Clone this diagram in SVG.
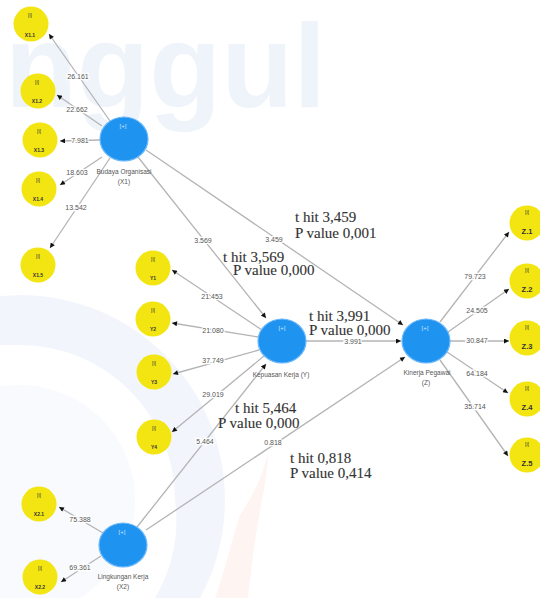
<svg xmlns="http://www.w3.org/2000/svg" width="540" height="598" viewBox="0 0 540 598">
<defs>
<marker id="ah" viewBox="0 0 10 10" refX="10" refY="5" markerWidth="6" markerHeight="5" markerUnits="userSpaceOnUse" orient="auto">
<path d="M0,0 L10,5 L0,10 z" fill="#111"/>
</marker>
<style>
.bg{fill:#ffffff}
.wm{font-family:"Liberation Sans",Arial,sans-serif;font-weight:bold;font-size:118px;fill:#eff4fb}
.ln{stroke:#b4b4b4;stroke-width:1.3;fill:none;marker-end:url(#ah)}
.el{font-family:"Liberation Sans",Arial,sans-serif;font-size:7px;fill:#555;text-anchor:middle;paint-order:stroke;stroke:#fff;stroke-width:2.5px}
.lat{fill:#1e93f0;stroke:#6bb8fb;stroke-width:1.2}
.plus{font-family:"Liberation Sans",Arial,sans-serif;font-size:6px;fill:#cfe6ff;text-anchor:middle}
.ll{font-family:"Liberation Sans",Arial,sans-serif;font-size:6.5px;fill:#555;text-anchor:middle}
.ind{fill:#f3e512}
.ii{font-family:"Liberation Sans",Arial,sans-serif;font-size:5px;fill:#333;text-anchor:middle}
.il{font-family:"Liberation Sans",Arial,sans-serif;font-size:5px;font-weight:bold;fill:#333;text-anchor:middle}
.zl{font-family:"Liberation Sans",Arial,sans-serif;font-size:7.5px;font-weight:bold;fill:#333;text-anchor:middle}
.an{font-family:"Liberation Serif","Times New Roman",serif;font-size:15px;fill:#333;stroke:#333;stroke-width:0.12}
</style>
</defs>
<rect class="bg" x="0" y="0" width="540" height="598"/>
<g id="background">
<path d="M20,295 A205,205 0 0 1 225,500 A205,205 0 0 1 200,598 L155,598 A155,155 0 0 0 175,500 A155,155 0 0 0 20,345 L0,345 L0,296 Z" fill="#f2f6fc"/>
<circle cx="20" cy="500" r="115" fill="#f8fafd"/>
<path d="M268,452 C262,480 250,500 240,515 C232,540 225,570 215,598 L248,598 C252,560 258,520 262,500 C266,480 268,465 268,452 Z" fill="#fef5f3"/>
<text class="wm" x="5" y="107">nggul</text>
</g>
<g id="connectors">
<line class="ln" x1="110" y1="121" x2="49" y2="34"/>
<line class="ln" x1="102" y1="126" x2="57" y2="95"/>
<line class="ln" x1="100" y1="140" x2="60" y2="141"/>
<line class="ln" x1="102" y1="157" x2="60" y2="185"/>
<line class="ln" x1="110" y1="158" x2="50" y2="248"/>
<line class="ln" x1="138" y1="157" x2="266" y2="318"/>
<line class="ln" x1="146" y1="150" x2="403" y2="325"/>
<line class="ln" x1="306" y1="341" x2="401" y2="341"/>
<line class="ln" x1="137" y1="527" x2="266" y2="364"/>
<line class="ln" x1="146" y1="530" x2="405" y2="357"/>
<line class="ln" x1="262" y1="330" x2="172" y2="270"/>
<line class="ln" x1="258" y1="337" x2="172" y2="323"/>
<line class="ln" x1="259" y1="350" x2="173" y2="374"/>
<line class="ln" x1="264" y1="356" x2="172" y2="432"/>
<line class="ln" x1="440" y1="322" x2="509" y2="232"/>
<line class="ln" x1="448" y1="332" x2="509" y2="289"/>
<line class="ln" x1="450" y1="341" x2="509" y2="341"/>
<line class="ln" x1="447" y1="352" x2="508" y2="393"/>
<line class="ln" x1="440" y1="360" x2="508" y2="456"/>
<line class="ln" x1="103" y1="533" x2="59" y2="507"/>
<line class="ln" x1="101" y1="556" x2="61" y2="582"/>
<text class="el" x="78" y="79">26.161</text>
<text class="el" x="77" y="112">22.662</text>
<text class="el" x="80" y="143">7.981</text>
<text class="el" x="77" y="175">18.603</text>
<text class="el" x="76" y="210">13.542</text>
<text class="el" x="203" y="243">3.569</text>
<text class="el" x="274" y="242">3.459</text>
<text class="el" x="353" y="344">3.991</text>
<text class="el" x="205" y="444">5.464</text>
<text class="el" x="273" y="445">0.818</text>
<text class="el" x="212" y="299">21.453</text>
<text class="el" x="213" y="333">21.080</text>
<text class="el" x="213" y="363">37.749</text>
<text class="el" x="213" y="397">29.019</text>
<text class="el" x="475" y="279">79.723</text>
<text class="el" x="477" y="313">24.505</text>
<text class="el" x="477" y="343">30.847</text>
<text class="el" x="477" y="376">64.184</text>
<text class="el" x="475" y="409">35.714</text>
<text class="el" x="80" y="522">75.388</text>
<text class="el" x="80" y="570">69.361</text>
</g>
<g id="X1">
<ellipse class="lat" cx="124" cy="139" rx="24" ry="22"/>
<text class="plus" x="123" y="128">[+]</text>
<text class="ll" x="124" y="174">Budaya Organisasi</text>
<text class="ll" x="124" y="184">(X1)</text>
</g>
<g id="Y">
<ellipse class="lat" cx="282" cy="341" rx="24" ry="22"/>
<text class="plus" x="282" y="330">[+]</text>
<text class="ll" x="281" y="377">Kepuasan Kerja (Y)</text>
</g>
<g id="Z">
<ellipse class="lat" cx="426" cy="341" rx="24" ry="22"/>
<text class="plus" x="425" y="330">[+]</text>
<text class="ll" x="427" y="375">Kinerja Pegawai</text>
<text class="ll" x="426" y="385">(Z)</text>
</g>
<g id="X2">
<ellipse class="lat" cx="123" cy="545" rx="24" ry="22"/>
<text class="plus" x="122" y="534">[+]</text>
<text class="ll" x="123" y="579">Lingkungan Kerja</text>
<text class="ll" x="123" y="589">(X2)</text>
</g>
<g id="X1.1"><circle class="ind" cx="31" cy="24" r="17.5"/><text class="ii" x="30" y="17">[i]</text><text class="il" x="30" y="37">X1.1</text></g>
<g id="X1.2"><circle class="ind" cx="38" cy="91" r="17.5"/><text class="ii" x="37" y="84">[i]</text><text class="il" x="37" y="103">X1.2</text></g>
<g id="X1.3"><circle class="ind" cx="40" cy="140" r="17.5"/><text class="ii" x="39" y="133">[i]</text><text class="il" x="39" y="152">X1.3</text></g>
<g id="X1.4"><circle class="ind" cx="39" cy="189" r="17.5"/><text class="ii" x="38" y="182">[i]</text><text class="il" x="38" y="201">X1.4</text></g>
<g id="X1.5"><circle class="ind" cx="38" cy="265" r="17.5"/><text class="ii" x="38" y="258">[i]</text><text class="il" x="38" y="277">X1.5</text></g>
<g id="Y1"><circle class="ind" cx="153" cy="268" r="17.5"/><text class="ii" x="153" y="261">[i]</text><text class="il" x="153" y="280">Y1</text></g>
<g id="Y2"><circle class="ind" cx="153" cy="319" r="17.5"/><text class="ii" x="153" y="312">[i]</text><text class="il" x="153" y="331">Y2</text></g>
<g id="Y3"><circle class="ind" cx="154" cy="372" r="17.5"/><text class="ii" x="154" y="365">[i]</text><text class="il" x="154" y="384">Y3</text></g>
<g id="Y4"><circle class="ind" cx="154" cy="437" r="17.5"/><text class="ii" x="154" y="430">[i]</text><text class="il" x="154" y="449">Y4</text></g>
<g id="Z.1"><circle class="ind" cx="527" cy="223" r="17.5"/><text class="ii" x="527" y="214">[i]</text><text class="zl" x="527" y="234">Z.1</text></g>
<g id="Z.2"><circle class="ind" cx="527" cy="281" r="17.5"/><text class="ii" x="527" y="272">[i]</text><text class="zl" x="527" y="292">Z.2</text></g>
<g id="Z.3"><circle class="ind" cx="527" cy="338" r="17.5"/><text class="ii" x="527" y="329">[i]</text><text class="zl" x="527" y="349">Z.3</text></g>
<g id="Z.4"><circle class="ind" cx="527" cy="399" r="17.5"/><text class="ii" x="527" y="390">[i]</text><text class="zl" x="527" y="410">Z.4</text></g>
<g id="Z.5"><circle class="ind" cx="527" cy="455" r="17.5"/><text class="ii" x="527" y="446">[i]</text><text class="zl" x="527" y="466">Z.5</text></g>
<g id="X2.1"><circle class="ind" cx="39" cy="504" r="17.5"/><text class="ii" x="39" y="497">[i]</text><text class="il" x="39" y="516">X2.1</text></g>
<g id="X2.2"><circle class="ind" cx="40" cy="577" r="17.5"/><text class="ii" x="40" y="570">[i]</text><text class="il" x="40" y="589">X2.2</text></g>
<g id="annotations">
<text class="an" x="295" y="222">t hit 3,459</text>
<text class="an" x="295" y="238">P value 0,001</text>
<text class="an" x="223" y="262">t hit 3,569</text>
<text class="an" x="233" y="275">P value 0,000</text>
<text class="an" x="309" y="321">t hit 3,991</text>
<text class="an" x="309" y="335">P value 0,000</text>
<text class="an" x="235" y="413">t hit 5,464</text>
<text class="an" x="218" y="428">P value 0,000</text>
<text class="an" x="290" y="463">t hit 0,818</text>
<text class="an" x="290" y="478">P value 0,414</text>
</g>
</svg>
